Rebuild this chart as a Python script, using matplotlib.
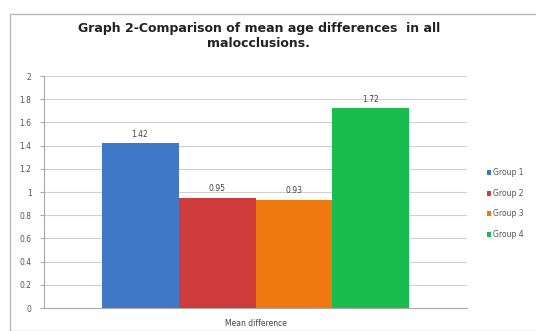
import matplotlib

matplotlib.use("Agg")
import matplotlib.pyplot as plt
from matplotlib.patches import Rectangle
import numpy as np

groups = ["Group 1", "Group 2", "Group 3", "Group 4"]
values = [1.42, 0.95, 0.93, 1.72]
labels = ["1.42", "0.95", "0.93", "1.72"]
colors = ["#3F78C6", "#CF3B3B", "#F0780F", "#17BE4E"]
yticks = [0, 0.2, 0.4, 0.6, 0.8, 1, 1.2, 1.4, 1.6, 1.8, 2]
ytick_labels = ["0", "0.2", "0.4", "0.6", "0.8", "1", "1.2", "1.4", "1.6", "1.8", "2"]
category = "Mean difference"

fig = plt.figure(figsize=(5.36, 3.31), dpi=100)
fig.patches.append(Rectangle((10 / 536, 0), 1, 1 - 14 / 331, transform=fig.transFigure,
                             fill=False, edgecolor="#BBBBBB", linewidth=1.0))
ax = fig.add_axes([44 / 536, 23 / 331, 423 / 536, 232 / 331])

width = 0.182
offsets = (np.arange(len(values)) - 1.5) * width
for off, v, lab, c, g in zip(offsets, values, labels, colors, groups):
    ax.bar(off, v, width=width, color=c, edgecolor="none", label=g, zorder=3)
    ax.text(off, v + 0.04, lab, ha="center", va="bottom", fontsize=5.5, color="#444444")

ax.set_xlim(-0.5, 0.5)
ax.set_ylim(0, 2)
ax.set_yticks(yticks)
ax.set_yticklabels(ytick_labels, fontsize=5.5, color="#555555")
ax.set_xticks([0])
ax.set_xticklabels([category], fontsize=5.5, color="#444444")
ax.tick_params(axis="x", length=0, pad=8)
ax.tick_params(axis="y", length=3, color="#AAAAAA", pad=6)
ax.grid(axis="y", color="#D0D0D0", linewidth=0.8, zorder=0)
for s in ["top", "right"]:
    ax.spines[s].set_visible(False)
for s in ["left", "bottom"]:
    ax.spines[s].set_color("#AAAAAA")

fig.text(0.483, 0.892, "Graph 2-Comparison of mean age differences  in all\nmalocclusions.",
         ha="center", va="center", fontsize=9, fontweight="bold", color="#222222",
         linespacing=1.2)

ax.legend(loc="center left", bbox_to_anchor=(1.03, 0.45), frameon=False, fontsize=5.5,
          handlelength=0.6, handleheight=0.6, handletextpad=0.3, labelspacing=1.5,
          labelcolor="#555555")

fig.savefig("out.png", dpi=100)
plt.close(fig)
